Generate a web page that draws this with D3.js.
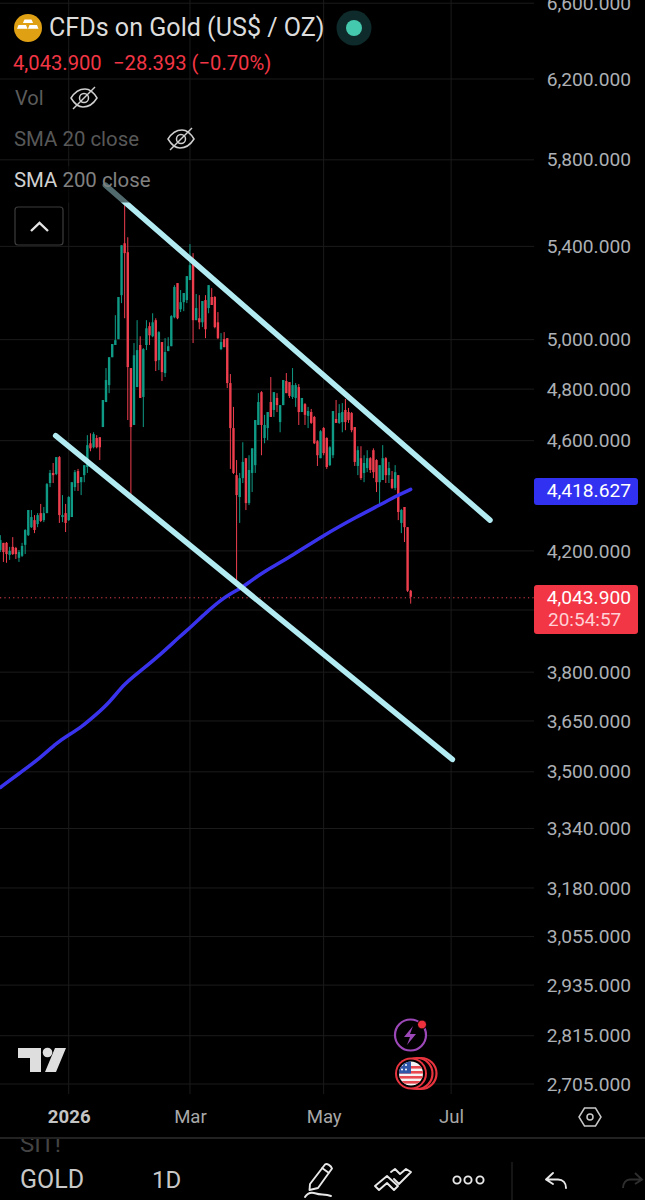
<!DOCTYPE html>
<html><head><meta charset="utf-8">
<script src="https://cdn.jsdelivr.net/npm/d3@7/dist/d3.min.js"></script>
<style>html,body{margin:0;background:#000}svg{display:block}text{font-family:Roboto,sans-serif}</style>
</head><body><svg id="c" width="645" height="1200"></svg>
<script>
const opens=[4203,4228,4228,4186,4214,4210,4176,4183,4221,4255,4283,4308,4294,4333,4308,4333,4442,4479,4475,4538,4319,4333,4308,4319,4427,4486,4445,4471,4501,4590,4575,4610,4613,
4652,4749,4816,4928,4978,5002,5187,5414,5374,4884,4660,4808,4978,4769,4978,5056,5014,5081,4916,
4990,4864,4953,4973,5093,5239,5127,5157,5166,5252,5330,5081,5089,5072,5166,5132,5179,5179,5072,4961,5002,5006,4824,4648,4471,
4391,4460,4534,4369,4479,4508,4660,4788,4610,4648,4749,4718,4765,4671,4737,4832,4828,4769,4765,4808,4710,4741,4695,4710,4691,4598,4534,4648,4610,4508,4545,4683,4668,4671,
4718,4710,4706,4652,4505,4534,4479,4497,4534,4564,4527,4445,4453,4534,4471,4457,4424,4471,4298,4355,4283,4064];
const highs=[4255,4228,4231,4214,4248,4214,4203,4228,4276,4344,4344,4326,4333,4366,4355,4442,4490,4516,4538,4542,4398,4366,4394,4445,4490,4494,4464,4508,4621,4628,4632,4621,4613,
4757,4884,4928,4982,5102,5179,5405,5588,5441,4884,4986,5081,5014,4965,5081,5072,5110,5089,5035,
4990,5006,5010,5102,5230,5239,5209,5196,5269,5410,5370,5192,5187,5162,5187,5230,5217,5183,5115,5027,5031,5006,4860,4730,4527,
4479,4594,4534,4545,4571,4679,4784,4792,4699,4710,4848,4788,4784,4737,4836,4864,4828,4884,4824,4820,4765,4745,4730,4722,4695,4602,4640,4652,4613,4579,4714,4757,4741,4745,
4761,4726,4710,4652,4579,4579,4545,4564,4538,4571,4530,4508,4583,4538,4520,4486,4508,4471,4348,4355,4283,4067];
const lows=[4196,4162,4159,4169,4186,4172,4162,4179,4189,4252,4280,4262,4283,4301,4301,4333,4427,4442,4471,4298,4301,4266,4305,4319,4413,4413,4398,4445,4479,4560,4571,4571,4527,
4652,4749,4784,4928,4978,5002,5153,5089,4679,4398,4660,4808,4765,4652,4957,4978,5010,4872,4876,
4832,4848,4953,4973,5089,5085,5115,5119,5153,5252,4986,5081,5043,5052,5006,5110,5145,5047,5002,4957,4969,4804,4494,4475,4091,
4298,4442,4344,4362,4409,4479,4660,4545,4590,4602,4691,4691,4710,4632,4737,4784,4765,4761,4730,4660,4710,4660,4648,4664,4587,4505,4534,4545,4494,4505,4534,4668,4664,4632,
4640,4668,4632,4505,4471,4453,4445,4482,4479,4460,4409,4358,4453,4442,4442,4420,4416,4308,4262,4231,4060,4021];
const closes=[4238,4196,4189,4200,4189,4189,4196,4217,4273,4344,4319,4273,4326,4305,4333,4438,4479,4471,4538,4326,4326,4298,4391,4445,4482,4442,4464,4508,4583,4571,4625,4575,4575,
4757,4836,4928,4982,4998,5179,5405,5370,4888,4652,4936,4957,4765,4961,5047,5018,5072,4912,5031,
4868,4949,4973,5098,5222,5089,5157,5196,5269,5317,5081,5132,5072,5162,5043,5230,5145,5052,5006,4990,4969,4824,4648,4479,4398,
4460,4520,4369,4490,4571,4679,4749,4660,4660,4710,4691,4788,4737,4737,4836,4784,4773,4816,4816,4710,4765,4699,4714,4668,4590,4545,4636,4553,4501,4575,4714,4668,4706,4710,
4671,4679,4640,4520,4564,4460,4516,4534,4490,4482,4445,4508,4534,4471,4497,4424,4482,4337,4344,4283,4064,4043.9];

const smaIndex=[0,6,13,18,22,26,31,35,40,45,51,58,61,66,72,77,80,84,93,104,115,122,128,132];
const smaValues=[3455,3495,3541,3584,3608,3631,3671,3705,3765,3803,3851,3916,3941,3990,4043,4070,4092,4124,4178,4255,4322,4362,4398,4418.6];

const channelUpper=[[33.8,5680],[157.5,4308]];
const channelLower=[[17.8,4619],[145.4,3536]];

const gridTicks=[6600,6200,5800,5400,5000,4800,4600,4200,4000,3800,3650,3500,3340,3180,3055,2935,2815,2705];
const priceTicks=[6600,6200,5800,5400,5000,4800,4600,4200,3800,3650,3500,3340,3180,3055,2935,2815,2705];
const timeTickIndex=[22,61,104,145];
const timeTickLabels=["2026","Mar","May","Jul"];
const lastPrice=4043.9, smaLast=4418.627;

const svg=d3.select("#c");
const x=d3.scaleLinear().domain([0,132]).range([0.3,410.7]);
const y=d3.scaleLog().domain([6200,2705]).range([79,1084]);
const PLOT_R=534, PLOT_B=1094;

// grid
svg.append("g").selectAll("line").data(gridTicks).join("line")
 .attr("x1",0).attr("x2",PLOT_R).attr("y1",d=>y(d)).attr("y2",d=>y(d)).attr("stroke","#1b1b1b");
svg.append("g").selectAll("line").data(timeTickIndex).join("line")
 .attr("x1",d=>x(d)).attr("x2",d=>x(d)).attr("y1",0).attr("y2",PLOT_B).attr("stroke","#1b1b1b");

// last price dotted
svg.append("line").attr("x1",0).attr("x2",PLOT_R).attr("y1",y(lastPrice)+1).attr("y2",y(lastPrice)+1)
 .attr("stroke","#e5404e").attr("stroke-width",1).attr("stroke-dasharray","1.2 3.2");

// candles
const idx=d3.range(opens.length);
const col=i=>closes[i]>=opens[i]?"#0f9a85":"#ee3e4e";
const cg=svg.append("g");
cg.selectAll("line").data(idx).join("line")
 .attr("x1",x).attr("x2",x).attr("y1",i=>y(highs[i])).attr("y2",i=>y(lows[i]))
 .attr("stroke",col).attr("stroke-width",1);
cg.selectAll("rect").data(idx).join("rect")
 .attr("x",i=>x(i)-1.2).attr("width",2.4)
 .attr("y",i=>Math.min(y(opens[i]),y(closes[i])))
 .attr("height",i=>Math.max(1,Math.abs(y(opens[i])-y(closes[i]))))
 .attr("fill",col);

// SMA
const sma=d3.line().x((d,i)=>x(smaIndex[i])).y(d=>y(d)).curve(d3.curveBasis);
svg.append("path").attr("d",sma(smaValues)).attr("fill","none").attr("stroke","#3a33ee").attr("stroke-width",3.5).attr("stroke-linecap","round");

// channel
const ch=d3.line().x(d=>x(d[0])).y(d=>y(d[1]));
[channelUpper,channelLower].forEach(c=>svg.append("path").attr("d",ch(c))
 .attr("stroke","#b2ebf2").attr("stroke-width",5.5).attr("stroke-linecap","round").attr("fill","none"));

// legend shade
svg.append("rect").attr("x",0).attr("y",166).attr("width",162).attr("height",36.5).attr("fill","#000").attr("opacity",0.55);

// y axis
const yAxis=d3.axisRight(y).tickValues(priceTicks).tickFormat(d3.format(",.3f")).tickSize(0).tickPadding(0);
const ya=svg.append("g").attr("transform","translate(547,0)").call(yAxis);
ya.select(".domain").remove();
ya.selectAll("text").attr("font-size",19.2).attr("fill","#adb0b5").attr("font-family","Roboto").attr("x",84).attr("text-anchor","end");

// x axis
const xAxis=d3.axisBottom(x).tickValues(timeTickIndex).tickFormat((d,i)=>timeTickLabels[i]).tickSize(0).tickPadding(0);
const xa=svg.append("g").attr("transform","translate(0,1110)").call(xAxis);
xa.select(".domain").remove();
xa.selectAll("text").attr("font-size",18.6).attr("fill","#a8a8a8").attr("font-family","Roboto").attr("dy","0.71em").attr("y",0);
xa.selectAll("text").filter((d,i)=>i===0).attr("font-weight",700).attr("fill","#c4c4c4");

// price tags
function tag(yTop,h,fill){svg.append("rect").attr("x",534).attr("y",yTop).attr("width",104).attr("height",h).attr("rx",3).attr("fill",fill);}
tag(478,27,"#3131f2");
tag(585,49,"#f23645");
const T=(s,xp,yp,size,fill,extra={})=>{const t=svg.append("text").attr("x",xp).attr("y",yp).attr("font-size",size).attr("fill",fill).text(s);
 Object.entries(extra).forEach(([k,v])=>t.attr(k,v));return t;};
const f3=d3.format(",.3f");
T(f3(smaLast),631,497,19.2,"#fff",{"text-anchor":"end"});
T(f3(lastPrice),631,604,19.2,"#fff",{"text-anchor":"end"});
T("20:54:57",548,626,19,"#ffd0d4");

// header
const logo=svg.append("g");
logo.append("circle").attr("cx",28).attr("cy",28).attr("r",14).attr("fill","#e0a014");
logo.append("path").attr("d","M24.5 19.5h7l1.6 3.6h-10.2zM18.5 25h7.5l1.5 3.8h-10.5zM29.5 25h7.5l1.5 3.8h-10.5z").attr("fill","#fff");
T("CFDs on Gold (US$ / OZ)",49,36,25.1,"#dcdcdc");
svg.append("circle").attr("cx",354).attr("cy",28).attr("r",17.5).attr("fill","#0e2a2a");
svg.append("circle").attr("cx",354).attr("cy",28).attr("r",8).attr("fill","#45c9ae");
T("4,043.900",13,70,20.2,"#f23645");
T("\u221228.393 (\u22120.70%)",113,70,20.2,"#f23645");
T("Vol",15,105,20,"#5c5c5c");
T("SMA 20 close",14,146,20.4,"#585858");
const s=T("SMA",14,187,20.4,"#d0d0d0");
s.append("tspan").attr("fill","#808080").text(" 200 close");
function eye(cx,cy){const g=svg.append("g").attr("transform",`translate(${cx},${cy})`).attr("fill","none").attr("stroke","#cfcfcf").attr("stroke-width",1.5);
 g.append("path").attr("d","M-13 0C-8 -8 -3 -9 1 -9C6 -9 10 -5 13 0C8 8 3 9 -1 9C-6 9 -10 5 -13 0Z");
 g.append("circle").attr("r",4.5);
 g.append("path").attr("d","M-11 11L11 -11");}
eye(84,98);eye(181,139);
svg.append("rect").attr("x",15).attr("y",207).attr("width",48).attr("height",38).attr("rx",3).attr("fill","#000").attr("stroke","#3c3c3c").attr("stroke-width",1.2);
svg.append("path").attr("d","M31 231L39.5 223L48 231").attr("fill","none").attr("stroke","#e4e4e4").attr("stroke-width",2.4);

// TV logo
svg.append("path").attr("fill","#dedede").attr("d","M18 1048H41V1072H30V1058H18ZM66 1048L56 1072H45L55 1048Z");
svg.append("circle").attr("cx",47.5).attr("cy",1052.5).attr("r",4.8).attr("fill","#dedede");

// bolt
svg.append("circle").attr("cx",410.5).attr("cy",1035).attr("r",15.5).attr("fill","#000").attr("stroke","#9c48b8").attr("stroke-width",2.2);
svg.append("path").attr("d","M413 1026L404 1037H410L407 1045L416 1034H410Z").attr("fill","#9c48b8");
svg.append("circle").attr("cx",422).attr("cy",1024.5).attr("r",4.5).attr("fill","#f0303c").attr("stroke","#000").attr("stroke-width",1);
// flag
[[421,"#e8343f"],[417,"#e8343f"]].forEach(d=>svg.append("circle").attr("cx",d[0]).attr("cy",1073.5).attr("r",15.5).attr("fill","#000").attr("stroke",d[1]).attr("stroke-width",2.2));
svg.append("circle").attr("cx",411).attr("cy",1073.5).attr("r",16).attr("fill","#e8343f");
svg.append("circle").attr("cx",411).attr("cy",1073.5).attr("r",14).attr("fill","#000");
const defs=svg.append("defs");
defs.append("clipPath").attr("id","fl").append("circle").attr("cx",411).attr("cy",1073.5).attr("r",12);
const fl=svg.append("g").attr("clip-path","url(#fl)");
fl.append("rect").attr("x",398).attr("y",1061).attr("width",26).attr("height",25).attr("fill","#f4f4f4");
[1067,1072,1077,1082].forEach(v=>fl.append("rect").attr("x",398).attr("y",v-1).attr("width",26).attr("height",2.6).attr("fill","#e84850"));
fl.append("rect").attr("x",398).attr("y",1061).attr("width",13).attr("height",12.5).attr("fill","#2f55a8");
[[402,1065],[406,1065],[402,1069.5],[406,1069.5]].forEach(p=>fl.append("circle").attr("cx",p[0]).attr("cy",p[1]).attr("r",1).attr("fill","#fff"));

// hexagon
svg.append("path").attr("d","M579 1117L584.5 1108H595.5L601 1117L595.5 1126H584.5Z").attr("fill","none").attr("stroke","#c8c8c8").attr("stroke-width",1.5);
svg.append("circle").attr("cx",590).attr("cy",1117).attr("r",3).attr("fill","none").attr("stroke","#c8c8c8").attr("stroke-width",1.5);

// bottom bar
svg.append("rect").attr("x",0).attr("y",1139).attr("width",645).attr("height",61).attr("fill","#000");
svg.append("defs").append("clipPath").attr("id","sitclip").append("rect").attr("x",0).attr("y",1139).attr("width",645).attr("height",40);
svg.append("g").attr("clip-path","url(#sitclip)").append("text").attr("x",20).attr("y",1152).attr("font-size",24).attr("fill","#444").text("SIT!");
svg.append("line").attr("x1",0).attr("x2",645).attr("y1",1138).attr("y2",1138).attr("stroke","#2e2e2e").attr("stroke-width",1.5);
T("GOLD",20,1188,25,"#c8c8c8");
T("1D",152,1188,24,"#c8c8c8");
svg.append("line").attr("x1",512).attr("x2",512).attr("y1",1162).attr("y2",1200).attr("stroke","#2a2a2a");
const ic=svg.append("g").attr("fill","none").attr("stroke","#e8e8e8").attr("stroke-width",1.9).attr("stroke-linejoin","round").attr("stroke-linecap","round");
ic.append("path").attr("d","M310 1184L325 1164.5C327 1163 331 1165.5 332 1168.5L318 1188L309.5 1190Z M322 1168L329 1173");
ic.append("path").attr("d","M305 1197C308 1192 312 1192 316 1193.5C320 1195 325 1194 331 1196");
ic.append("path").attr("d","M375 1186L387 1176L398 1186L394 1190L387 1183L379 1190Z");
ic.append("path").attr("d","M391 1172L395 1169L400 1174L406 1169L411 1172L399 1184L394 1179");
[457,468,480].forEach(c=>ic.append("circle").attr("cx",c).attr("cy",1180).attr("r",3.6));
ic.append("path").attr("d","M553 1173L546 1179.5L553 1184M546.5 1179.5H558C563 1179.5 566 1183 566 1188");
svg.append("path").attr("d","M635 1173L642 1179.5L635 1184M641.5 1179.5H630C626 1179.5 623 1183 623 1188").attr("fill","none").attr("stroke","#2e2e2e").attr("stroke-width",1.9);
</script></body></html>
